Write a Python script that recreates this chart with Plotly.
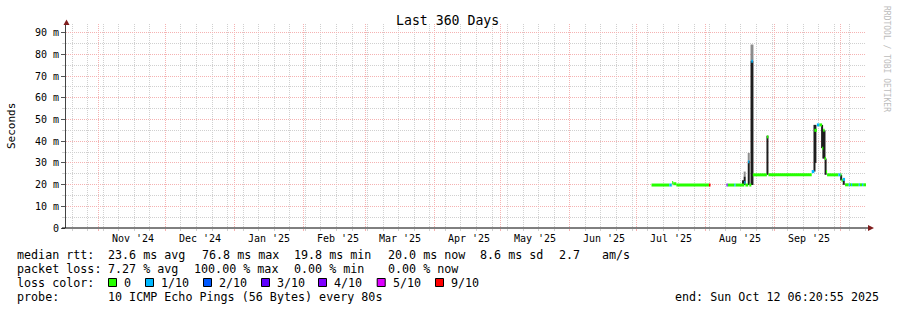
import plotly.graph_objects as go
import pandas as pd

# ---------------- data ----------------
X_START = "2024-10-17 06:20:55"
X_END = "2025-10-12 06:20:55"
Y_MAX = 94.0

# median rtt samples (ms); each sample lasts until the next one; None = no data
sample_time = [
    "2025-07-07 18:00", "2025-07-15 18:00", "2025-07-16 20:00", "2025-07-17 01:00",
    "2025-07-17 12:00", "2025-07-18 22:00", "2025-08-02 14:00", "2025-08-03 07:00",
    "2025-08-10 12:00", "2025-08-11 00:00", "2025-08-14 00:00", "2025-08-14 12:00",
    "2025-08-18 12:00", "2025-08-19 00:00", "2025-08-20 06:00", "2025-08-20 18:00",
    "2025-08-21 16:00", "2025-08-22 08:00",
    "2025-08-28 16:00", "2025-08-29 08:00", "2025-09-17 20:00", "2025-09-19 00:00",
    "2025-09-20 04:00", "2025-09-21 06:00", "2025-09-22 12:00", "2025-09-23 00:00",
    "2025-09-23 16:00", "2025-09-24 06:00", "2025-09-24 18:00", "2025-09-29 20:00",
    "2025-09-30 18:00", "2025-10-01 06:00", "2025-10-01 20:00", "2025-10-02 20:00",
    "2025-10-04 12:00", "2025-10-05 00:00", "2025-10-05 12:00", "2025-10-06 00:00",
    "2025-10-09 00:00", "2025-10-09 12:00", "2025-10-10 12:00", "2025-10-11 00:00",
]
sample_rtt = [
    19.8, 19.8, 19.8, 21.0, 20.4, 19.8, 19.8, None,
    19.8, 19.8, 19.8, 19.8, 21.0, 19.8, 30.5, 19.8, 76.8, 24.5,
    42.0, 24.5, 26.0, 45.0, 47.5, 47.5, 36.8, 45.0, 32.0, 26.0, 24.5, 24.5,
    24.5, 22.0, 22.4, 19.9, 19.9, 19.9, 19.9, 19.9, 19.9, 19.9, 19.9, 19.9,
]
sample_loss = [
    0, 1, 0, 0, 0, 0, 10, 0,
    3, 0, 1, 0, 1, 0, 1, 0, 1, 0,
    0, 0, 1, 0, 1, 0, 0, 0, 0, 0, 0, 1,
    0, 0, 1, 0, 1, 0, 1, 0, 1, 0, 1, 0,
]

# smoke (spread of the individual pings), ms
smoke_time = [
    "2025-08-17 22:00", "2025-08-18 16:00", "2025-08-20 12:00", "2025-08-21 18:00",
    "2025-08-22 04:00", "2025-08-28 22:00", "2025-09-19 02:00", "2025-09-19 12:00",
    "2025-09-22 12:00", "2025-09-23 02:00", "2025-09-23 14:00", "2025-09-24 02:00",
    "2025-10-01 02:00", "2025-10-02 06:00",
]
smoke_lo = [19.8, 19.8, 19.8, 19.8, 19.8, 24.5, 26.0, 30.0, 36.8, 32.0, 32.0, 24.5, 22.0, 19.9]
smoke_hi = [22.0, 23.7, 31.0, 77.0, 77.0, 42.5, 47.5, 47.5, 47.5, 45.0, 45.0, 32.0, 24.5, 22.4]
smoke_top = [22.0, 26.0, 34.6, 84.5, 84.5, 42.5, 47.5, 47.5, 47.5, 45.0, 45.0, 32.0, 24.5, 22.4]

loss_levels = ["0", "1/10", "2/10", "3/10", "4/10", "5/10", "9/10"]
loss_colors = ["#26ff00", "#00b8ff", "#0059ff", "#5e00ff", "#7e00ff", "#dd00ff", "#ff0000"]

month_starts = ["2024-11-01", "2024-12-01", "2025-01-01", "2025-02-01", "2025-03-01",
                "2025-04-01", "2025-05-01", "2025-06-01", "2025-07-01", "2025-08-01",
                "2025-09-01", "2025-10-01"]
month_labels = ["Nov '24", "Dec '24", "Jan '25", "Feb '25", "Mar '25", "Apr '25",
                "May '25", "Jun '25", "Jul '25", "Aug '25", "Sep '25"]
week_start = "2024-10-20"

y_ticks = [0, 10, 20, 30, 40, 50, 60, 70, 80, 90]
y_ticktext = ["0", "10 m", "20 m", "30 m", "40 m", "50 m", "60 m", "70 m", "80 m", "90 m"]

title = "Last 360 Days"
y_title = "Seconds"
rtt_stats = ["23.6 ms avg", "76.8 ms max", "19.8 ms min", "20.0 ms now", "8.6 ms sd", "2.7", "am/s"]
loss_stats = ["7.27 % avg", "100.00 % max", "0.00 % min", "0.00 % now"]
probe_text = "10 ICMP Echo Pings (56 Bytes) every 80s"
end_text = "end: Sun Oct 12 06:20:55 2025"
watermark = "RRDTOOL / TOBI OETIKER"

# ---------------- geometry ----------------
W, H = 897, 310
L, R, T, B = 66, 31, 24, 82
PW = W - L - R
PH = H - T - B


def px(x):
    return (x - L) / PW


def py(y):
    return (H - B - y) / PH


MONO = "DejaVu Sans Mono"
MAJOR = "#f5b2b2"
MINOR = "#d0d0d0"


def loss_bucket(l):
    return min(l, 5) if l < 6 else 6


fig = go.Figure()

# smoke: black body and gray top
sx, sy, gx, gy = [], [], [], []
for t, lo, hi, top in zip(smoke_time, smoke_lo, smoke_hi, smoke_top):
    sx += [t, t, None]
    sy += [lo, hi, None]
    if top > hi:
        gx += [t, t, None]
        gy += [hi, top, None]
fig.add_trace(go.Scatter(x=gx, y=gy, mode="lines", line=dict(color="#8c8c8c", width=2),
                         hoverinfo="skip", showlegend=False))
fig.add_trace(go.Scatter(x=sx, y=sy, mode="lines", line=dict(color="#1e1e1e", width=2),
                         hoverinfo="skip", showlegend=False))

# median segments coloured by loss
groups = {i: ([], []) for i in range(len(loss_colors))}
for i, (t, v, l) in enumerate(zip(sample_time, sample_rtt, sample_loss)):
    if v is None:
        continue
    t_end = sample_time[i + 1] if i + 1 < len(sample_time) else X_END
    gxs, gys = groups[loss_bucket(l)]
    gxs += [t, t_end, None]
    gys += [v, v, None]
for i, (gxs, gys) in groups.items():
    if gxs:
        fig.add_trace(go.Scatter(x=gxs, y=gys, mode="lines",
                                 line=dict(color=loss_colors[i], width=3),
                                 hoverinfo="skip", showlegend=False))

label_pos = [pd.Timestamp(m) + pd.Timedelta(days=15.5) for m in month_starts[:len(month_labels)]]

annotations = []
for pos, lab in zip(label_pos, month_labels):
    annotations.append(dict(x=pos, y=py(238), xref="x", yref="paper", text=lab,
                            showarrow=False, xanchor="center", yanchor="middle",
                            font=dict(family=MONO, size=10, color="#000")))


def txt(x, y, s, size=11.7, anchor="left", color="#000", angle=0):
    annotations.append(dict(x=px(x), y=py(y), xref="paper", yref="paper", text=s,
                            showarrow=False, xanchor=anchor, yanchor="middle",
                            borderpad=0, textangle=angle,
                            font=dict(family=MONO, size=size, color=color)))


txt(447.5, 20, title, size=13.2, anchor="center")
txt(11, 126, y_title, size=11, anchor="center", angle=-90)
txt(886, 59, watermark, size=8, anchor="center", color="#bcbcbc", angle=90)

# legend rows
row_y = [254.5, 268.5, 282.5, 296.5]
txt(16, row_y[0], "median rtt:")
for x, s in zip([107.3, 201, 293.3, 386.7, 479.3, 558.3, 600.7], rtt_stats):
    txt(x, row_y[0], s)
txt(16, row_y[1], "packet loss:")
for x, s in zip([107.3, 193.3, 293.3, 386.7], loss_stats):
    txt(x, row_y[1], s)
txt(16, row_y[2], "loss color:")
shapes = []
for x, s, c in zip([123, 160, 218, 276, 333, 391.7, 450], loss_levels, loss_colors):
    txt(x, row_y[2], s)
    shapes.append(dict(type="rect", xref="paper", yref="paper",
                       x0=px(x - 14.5), x1=px(x - 6.5), y0=py(286.5), y1=py(278.5),
                       fillcolor=c, line=dict(color="#000", width=1)))
txt(16, row_y[3], "probe:")
txt(107.3, row_y[3], probe_text)
txt(880, row_y[3], end_text, anchor="right")

# axis base line & arrows
shapes.append(dict(type="line", xref="paper", yref="paper", x0=px(62), x1=px(869),
                   y0=0, y1=0, line=dict(color="#000", width=1)))
shapes.append(dict(type="path", xref="paper", yref="paper",
                   path=f"M {px(868)},{py(225)} L {px(874)},{py(228)} L {px(868)},{py(231)} Z",
                   fillcolor="#7f1d1d", line=dict(color="#7f1d1d", width=0)))
shapes.append(dict(type="path", xref="paper", yref="paper",
                   path=f"M {px(63.5)},{py(25)} L {px(66.5)},{py(19.5)} L {px(69.5)},{py(25)} Z",
                   fillcolor="#7f1d1d", line=dict(color="#7f1d1d", width=0)))

fig.update_layout(
    width=W, height=H, autosize=False,
    margin=dict(l=L, r=R, t=T, b=B, pad=0),
    paper_bgcolor="#ffffff", plot_bgcolor="#ffffff",
    showlegend=False,
    annotations=annotations, shapes=shapes,
    xaxis=dict(type="date", range=[X_START, X_END], tickmode="array",
               tickvals=month_starts, showticklabels=False,
               showgrid=True, gridcolor=MAJOR, gridwidth=1, griddash="1px,1px",
               ticks="outside", ticklen=2, tickcolor=MAJOR,
               minor=dict(tick0=week_start, dtick=7 * 86400000, showgrid=True,
                          gridcolor=MINOR, gridwidth=1, griddash="1px,1px",
                          ticks="outside", ticklen=2, tickcolor=MINOR),
               showline=False, zeroline=False, fixedrange=True),
    yaxis=dict(range=[0, Y_MAX], tickmode="array", tickvals=y_ticks, ticktext=y_ticktext,
               tickfont=dict(family=MONO, size=10, color="#000"),
               showgrid=True, gridcolor=MAJOR, gridwidth=1, griddash="1px,1px",
               minor=dict(tickmode="linear", tick0=5, dtick=10, showgrid=True,
                          gridcolor=MINOR, gridwidth=1, griddash="1px,1px",
                          ticks="outside", ticklen=3, tickcolor=MINOR),
               ticks="outside", ticklen=4, tickcolor="#555",
               showline=True, linecolor="#444", linewidth=1,
               zeroline=False, fixedrange=True),
)

fig.write_html("out.html", include_plotlyjs=True, config={"displayModeBar": False})
